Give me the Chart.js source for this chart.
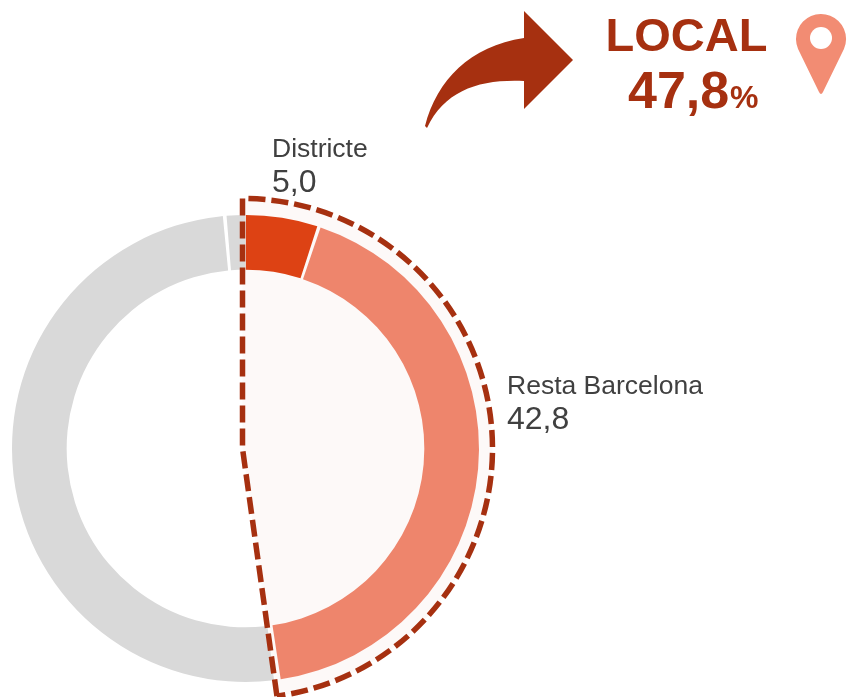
<!DOCTYPE html>
<html><head><meta charset="utf-8">
<style>html,body{margin:0;padding:0;background:#fff}#w{position:relative;width:847px;height:697px}</style>
<script src="https://cdn.jsdelivr.net/npm/chart.js@4"></script>
</head><body><div id="w"><canvas id="c" width="847" height="697"></canvas></div>
<script>
const categories = ["Districte", "Resta Barcelona", "Altres", "Altres (2)"];
const values = [5.0, 42.8, 50.9, 1.3];
const sliceColors = ["#DD4214", "#EE856C", "#D9D9D9", "#D9D9D9"];
const localTitle = "LOCAL";
const localValue = "47,8";
const localUnit = "%";
const valueLabels = ["5,0", "42,8"];

const DARK = "#A63010", PIN = "#F28C73", GREY_TEXT = "#404040", PALE = "#FDF9F8";
const FONT = '"Liberation Sans", Arial, sans-serif';

const overlay = {
  id: "overlay",
  beforeDatasetsDraw(chart) {
    const ctx = chart.ctx, a = chart.getDatasetMeta(0).data;
    ctx.save();
    ctx.beginPath();
    ctx.moveTo(a[0].x - 3, a[0].y);
    ctx.arc(a[0].x - 3, a[0].y, 250, a[0].startAngle, a[1].endAngle);
    ctx.closePath();
    ctx.fillStyle = PALE;
    ctx.fill();
    ctx.restore();
  },
  afterDatasetsDraw(chart) {
    const ctx = chart.ctx, a = chart.getDatasetMeta(0).data;
    ctx.save();
    // dashed outline of the local share
    ctx.beginPath();
    const cx = a[0].x - 3, cy = a[0].y;
    ctx.moveTo(cx + 250 * Math.cos(a[1].endAngle), cy + 250 * Math.sin(a[1].endAngle));
    ctx.lineTo(cx, cy);
    ctx.lineTo(cx, cy - 250);
    ctx.arc(cx, cy, 250, a[0].startAngle, a[1].endAngle);
    ctx.strokeStyle = DARK;
    ctx.lineWidth = 5.5;
    ctx.setLineDash([17, 6]);
    ctx.stroke();
    ctx.setLineDash([]);

    // curved arrow
    ctx.fillStyle = DARK;
    ctx.beginPath();
    ctx.moveTo(425, 126);
    ctx.bezierCurveTo(437, 80, 470, 46, 524, 38);
    ctx.lineTo(524, 11);
    ctx.lineTo(573, 60);
    ctx.lineTo(524, 109);
    ctx.lineTo(524, 81);
    ctx.bezierCurveTo(480, 79, 445, 90, 427, 128);
    ctx.closePath();
    ctx.fill();

    // map pin
    ctx.fillStyle = PIN;
    ctx.beginPath();
    ctx.arc(821, 39, 25, Math.PI * 0.87, Math.PI * 0.13 + Math.PI * 2);
    ctx.lineTo(823, 92);
    ctx.quadraticCurveTo(821, 96, 819, 92);
    ctx.closePath();
    ctx.fill();
    ctx.fillStyle = "#fff";
    ctx.beginPath();
    ctx.arc(821, 38, 11, 0, Math.PI * 2);
    ctx.fill();

    // texts
    ctx.textBaseline = "alphabetic";
    ctx.textAlign = "left";
    ctx.fillStyle = GREY_TEXT;
    ctx.font = "26.5px " + FONT;
    ctx.fillText(categories[0], 272, 157);
    ctx.fillText(categories[1], 507, 394);
    ctx.font = "32px " + FONT;
    ctx.fillText(valueLabels[0], 272, 192);
    ctx.fillText(valueLabels[1], 507, 429);

    ctx.fillStyle = DARK;
    ctx.font = "bold 47px " + FONT;
    ctx.textAlign = "center";
    ctx.fillText(localTitle, 686.5, 51);
    ctx.textAlign = "left";
    ctx.font = "bold 52px " + FONT;
    ctx.fillText(localValue, 628, 108);
    ctx.font = "bold 32px " + FONT;
    ctx.fillText(localUnit, 730, 108);
    ctx.restore();
  }
};

new Chart(document.getElementById("c"), {
  type: "doughnut",
  data: { labels: categories, datasets: [{
    data: values,
    backgroundColor: sliceColors,
    borderWidth: 0,
    spacing: 4
  }]},
  options: {
    responsive: false,
    animation: false,
    radius: 231.5,
    cutout: 186,
    rotation: 0,
    layout: { padding: { left: 0, right: 356, top: 200, bottom: 0 } },
    plugins: { legend: { display: false }, tooltip: { enabled: false } }
  },
  plugins: [overlay]
});
</script></body></html>
